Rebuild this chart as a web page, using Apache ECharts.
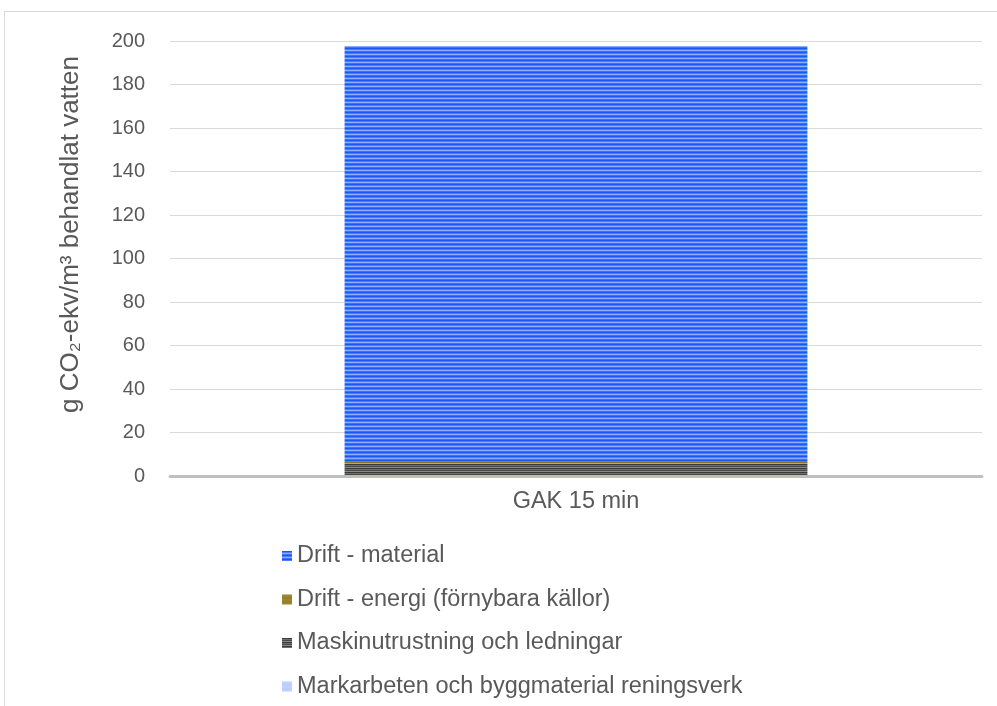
<!DOCTYPE html>
<html><head><meta charset="utf-8">
<script src="https://cdn.jsdelivr.net/npm/echarts@6/dist/echarts.min.js"></script>
<style>html,body{margin:0;padding:0;background:#fff}#c{width:997px;height:706px}</style>
</head><body><div id="c"></div>
<script>
const categories = ['GAK 15 min'];
const seriesNames = ['Markarbeten och byggmaterial reningsverk','Maskinutrustning och ledningar','Drift - energi (förnybara källor)','Drift - material'];
const markarbeten = [0.3];
const maskin = [5.5];
const energi = [0.6];
const material = [191.3];
const yTicks = [0,20,40,60,80,100,120,140,160,180,200];

function stripes(cols){
  const c = document.createElement('canvas');
  c.width = 4; c.height = cols.length;
  const g = c.getContext('2d');
  cols.forEach((col,i)=>{g.fillStyle=col;g.fillRect(0,i,4,1);});
  return {image:c, repeat:'repeat'};
}
const pats = [
  stripes(['#b4c8ff','#cddaff','#b4c8ff','#c2d3ff']),
  stripes(['#3a3a3a','#6e6e6e','#4a4a4a','#8a8a8a']),
  stripes(['#8a7420','#b09a40','#8a7420','#a08a35']),
  stripes(['#1a57f0','#4a80ff','#8aaeff','#3a73ff'])
];
const data = [markarbeten, maskin, energi, material];
const FF = 'Liberation Sans, Arial, sans-serif';

const chart = echarts.init(document.getElementById('c'));
chart.setOption({
  animation:false,
  graphic:[{type:'rect',shape:{x:4.5,y:11.5,width:1100,height:800},style:{fill:'none',stroke:'#d9d9d9',lineWidth:1}}],
  grid:{left:170,right:15,top:41,bottom:230},
  xAxis:{type:'category',data:categories,
    axisLine:{lineStyle:{color:'#bfbfbf',width:3}},axisTick:{show:false},
    axisLabel:{color:'#595959',fontSize:23.5,fontFamily:FF,margin:14}},
  yAxis:{type:'value',min:0,max:200,interval:20,
    name:'g CO₂-ekv/m³ behandlat vatten',nameLocation:'middle',nameGap:86,
    nameTextStyle:{color:'#595959',fontSize:26,fontFamily:FF,padding:[0,0,0,48]},
    axisLabel:{color:'#595959',fontSize:20,fontFamily:FF,margin:25,
      formatter:v=>yTicks.includes(v)?String(v):''},
    splitLine:{lineStyle:{color:'#d9d9d9',width:1}},axisLine:{show:false},axisTick:{show:false}},
  legend:{orient:'vertical',left:277,top:539,itemGap:19.5,itemWidth:10,itemHeight:10,
    icon:'rect',
    data:[seriesNames[3],seriesNames[2],seriesNames[1],seriesNames[0]],
    textStyle:{color:'#595959',fontSize:23.5,fontFamily:FF,padding:[0,0,0,0]}},
  series:seriesNames.map((n,i)=>({name:n,type:'bar',stack:'s',data:data[i],barWidth:'57%',
    itemStyle:{color:pats[i]}}))
});
</script></body></html>
